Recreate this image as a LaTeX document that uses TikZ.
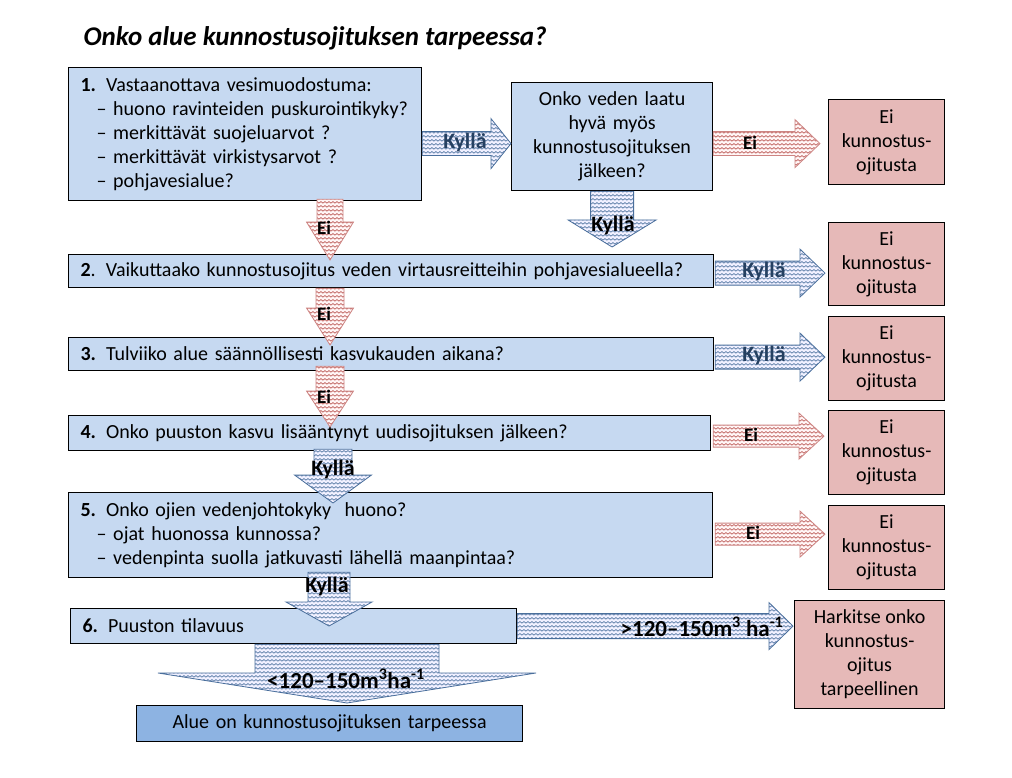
\documentclass[tikz,border=0pt]{standalone}
\usepackage{fontspec}
\setmainfont{Carlito}
\usetikzlibrary{calc, patterns.meta}

\definecolor{boxblue}{HTML}{C6D9F1}
\definecolor{endblue}{HTML}{8DB3E2}
\definecolor{boxred}{HTML}{E6B9B8}
\definecolor{zigblue}{HTML}{4A6F9C}
\definecolor{zigred}{HTML}{B8504D}
\definecolor{kyllablue}{HTML}{254061}

\tikzdeclarepattern{
  name=zigzag, type=uncolored,
  bounding box={(0pt,0pt) and (4.4pt,3.6pt)},
  tile size={(4.4pt,3.6pt)},
  code={\draw[line width=0.7pt] (0pt,0.9pt) -- (2.2pt,2.7pt) -- (4.4pt,0.9pt);}
}

\tikzset{
  qbox/.style={
    draw, line width=1.2pt, fill=boxblue, anchor=north west,
    inner ysep=0pt, inner xsep=12pt, align=left,
    font=\fontsize{20}{24}\selectfont
  },
  nobox/.style={
    draw, line width=1.2pt, fill=boxred, anchor=north west,
    inner sep=0pt, align=center, minimum width=116pt, minimum height=85pt,
    font=\fontsize{20}{24}\selectfont
  },
  yesarrow/.style={draw=zigblue, line width=0.8pt, preaction={fill=blue!6!white}, pattern=zigzag, pattern color=zigblue},
  noarrow/.style={draw=zigred!70!white, line width=0.8pt, preaction={fill=red!4!white}, pattern=zigzag, pattern color=zigred},
  yeslabel/.style={font=\fontsize{22}{24}\selectfont\bfseries, text=kyllablue},
  downlabel/.style={font=\fontsize{22}{24}\selectfont\bfseries},
  nolabel/.style={font=\fontsize{19}{22}\selectfont\bfseries},
  amountlabel/.style={font=\fontsize{23}{24}\selectfont\bfseries},
}

% block arrows: style, tail, tip, shaft half width, head half width, head length
\newcommand{\blockright}[6]{%
  \path[#1] let \p1=(#2), \p2=(#3) in
    (\x1,\y1-#4) -- (\x2-#6,\y1-#4) -- (\x2-#6,\y1-#5) -- (\x2,\y1)
    -- (\x2-#6,\y1+#5) -- (\x2-#6,\y1+#4) -- (\x1,\y1+#4) -- cycle;}
\newcommand{\blockdown}[6]{%
  \path[#1] let \p1=(#2), \p2=(#3) in
    (\x1-#4,\y1) -- (\x1-#4,\y2+#6) -- (\x1-#5,\y2+#6) -- (\x1,\y2)
    -- (\x1+#5,\y2+#6) -- (\x1+#4,\y2+#6) -- (\x1+#4,\y1) -- cycle;}

\begin{document}
\begin{tikzpicture}[x=1pt, y=-1pt]
  \fill[white] (0,0) rectangle (1012,778);
  \useasboundingbox (0,0) rectangle (1012,778);

  \node[anchor=west, font=\fontsize{27}{30}\selectfont\bfseries\itshape] (title) at (80,38) {Onko alue kunnostusojituksen tarpeessa?};

  % questions
  \node[qbox, text width=329pt, minimum height=133pt] (b1) at (68,67) {\textbf{1.} Vastaanottava vesimuodostuma:\\
    \hspace*{16pt}– huono ravinteiden puskurointikyky?\\
    \hspace*{16pt}– merkittävät suojeluarvot ?\\
    \hspace*{16pt}– merkittävät virkistysarvot ?\\
    \hspace*{16pt}– pohjavesialue?};
  \node[qbox, align=center, inner xsep=0pt, text width=201pt, minimum height=108pt] (q) at (511,82) {Onko veden laatu\\hyvä myös\\kunnostusojituksen\\jälkeen?};
  \node[qbox, text width=621pt, minimum height=33pt] (b2) at (68,254) {\textbf{2}. Vaikuttaako kunnostusojitus veden virtausreitteihin pohjavesialueella?};
  \node[qbox, text width=621pt, minimum height=33pt] (b3) at (68,337) {\textbf{3.} Tulviiko alue säännöllisesti kasvukauden aikana?};
  \node[qbox, text width=618pt, minimum height=35pt] (b4) at (68,415) {\textbf{4.} Onko puuston kasvu lisääntynyt uudisojituksen jälkeen?};
  \node[qbox, text width=620pt, minimum height=85pt] (b5) at (68,492) {\textbf{5.} Onko ojien vedenjohtokyky\ \ huono?\\
    \hspace*{16pt}– ojat huonossa kunnossa?\\
    \hspace*{16pt}– vedenpinta suolla jatkuvasti lähellä maanpintaa?};
  \node[qbox, text width=422pt, minimum height=35pt] (b6) at (70,608) {\textbf{6.} Puuston tilavuus};
  \node[qbox, fill=endblue, align=center, inner xsep=0pt, text width=386pt, minimum height=36pt] (fin) at (136,705) {Alue on kunnostusojituksen tarpeessa};

  % outcomes
  \node[nobox] (ra) at (828,99) {Ei\\kunnostus-\\ojitusta};
  \node[nobox, minimum height=83pt] (rb) at (828,222) {Ei\\kunnostus-\\ojitusta};
  \node[nobox, minimum height=84pt] (rc) at (828,316) {Ei\\kunnostus-\\ojitusta};
  \node[nobox, minimum height=84pt] (rd) at (828,410) {Ei\\kunnostus-\\ojitusta};
  \node[nobox, minimum height=84pt] (re) at (828,505) {Ei\\kunnostus-\\ojitusta};
  \node[nobox, minimum width=150pt, minimum height=108pt] (rh) at (794,600) {Harkitse onko\\kunnostus-\\ojitus\\tarpeellinen};

  % arrows to the right
  \blockright{yesarrow}{$(b1.east)+(0,9.5)$}{q.west}{12pt}{25pt}{20pt}
  \blockright{noarrow}{$(q.east)+(0,7)$}{$(ra.west)+(-8,0)$}{12pt}{24pt}{25pt}
  \blockright{yesarrow}{$(b2.east)+(1,2)$}{$(rb.west)+(-3,0)$}{12pt}{24pt}{25pt}
  \blockright{yesarrow}{$(b3.east)+(1,3)$}{$(rc.west)+(-3,0)$}{12pt}{24pt}{25pt}
  \blockright{noarrow}{$(b4.east)+(2,3)$}{$(rd.west)+(-4,0)$}{11pt}{23pt}{25pt}
  \blockright{noarrow}{$(b5.east)+(2,-1)$}{$(re.west)+(-3,0)$}{11pt}{23pt}{25pt}
  \blockright{yesarrow}{b6.east}{$(rh.west)+(-1,0)$}{12.5pt}{23.5pt}{24pt}

  % arrows down
  \blockdown{yesarrow}{q.south}{$(b2.north)+(0,-7)$}{21.5pt}{44pt}{27pt}
  \blockdown{noarrow}{$(b1.south west)+(262,-2)$}{$(b2.north)+(0,6)$}{13pt}{23.5pt}{38pt}
  \blockdown{noarrow}{$(b2.south west)+(262,0)$}{$(b3.north)+(0,8)$}{14pt}{23.5pt}{37pt}
  \blockdown{noarrow}{$(b3.south west)+(262,-5)$}{$(b4.north)+(0,12)$}{14pt}{23.5pt}{36pt}
  \blockdown{yesarrow}{$(b4.south west)+(265,-2)$}{$(b5.north)+(0,11)$}{19pt}{38.5pt}{28pt}
  \blockdown{yesarrow}{$(b5.south west)+(261,-6)$}{$(b6.north)+(0,18)$}{21pt}{43pt}{24pt}
  \blockdown{yesarrow}{$(b6.south west)+(277,0)$}{$(fin.north)+(0,-2)$}{92pt}{189pt}{30pt}

  % labels
  \node[yeslabel] (y1) at (465,143) {Kyllä};
  \node[nolabel] (n1) at (750,143) {Ei};
  \node[downlabel] (y2) at (613,226) {Kyllä};
  \node[nolabel] (n2) at (324,228) {Ei};
  \node[yeslabel] (y3) at (764,272) {Kyllä};
  \node[nolabel] (n3) at (324,314) {Ei};
  \node[yeslabel] (y4) at (764,356) {Kyllä};
  \node[nolabel] (n4) at (324,397) {Ei};
  \node[nolabel] (n5) at (751,435) {Ei};
  \node[downlabel] (y5) at (333,470) {Kyllä};
  \node[nolabel] (n6) at (753,533) {Ei};
  \node[downlabel] (y6) at (327,587) {Kyllä};
  \node[amountlabel] (m1) at (702,627) {>120--150m\textsuperscript{3} ha\textsuperscript{-1}};
  \node[amountlabel] (m2) at (346,679) {<120--150m\textsuperscript{3}ha\textsuperscript{-1}};
\end{tikzpicture}
\end{document}
